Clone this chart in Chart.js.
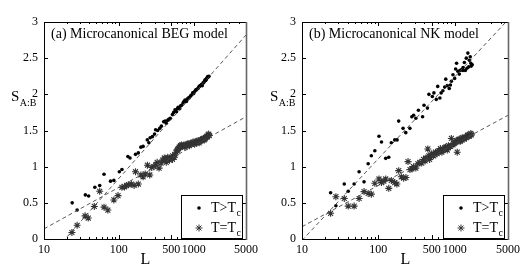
<!DOCTYPE html>
<html>
<head>
<meta charset="utf-8">
<script src="https://cdn.jsdelivr.net/npm/chart.js@4.4.1/dist/chart.umd.min.js"></script>
<style>
  html, body { margin: 0; padding: 0; background: #fff; }
  #wrap { display: flex; width: 524px; height: 271px; }
  canvas { display: block; }
</style>
</head>
<body>
<div id="wrap">
  <canvas id="chartA" width="262" height="271"></canvas>
  <canvas id="chartB" width="262" height="271"></canvas>
</div>
<script>
// axis ticks
const xTicks = [10, 100, 500, 1000, 5000];
const xMinor = [20, 30, 40, 50, 60, 70, 80, 90, 200, 300, 400, 600, 700, 800, 900, 2000, 3000, 4000];
const yTicks = [0, 0.5, 1, 1.5, 2, 2.5, 3];

// (a) Microcanonical BEG model, T > Tc
const aHotL = [23.8, 27.7, 35.7, 39.5, 47.8, 55.5, 63.4, 77.4, 85.8, 101.6, 110, 132, 141, 167, 182, 197, 211,
  240, 252, 262, 281, 300, 310, 352, 397, 430, 464, 486, 520, 563, 590, 620, 650, 690, 720, 765, 800, 840, 880,
  935, 970, 1030, 1060, 1100, 1140, 1190, 1260, 1300, 1340, 1390, 1440, 1490, 1540, 1600,
  330, 370, 415, 450, 540, 605, 670, 740, 780, 820, 860, 910, 1000, 1080, 1170, 1220, 1280, 1360, 1420, 1470, 1520, 1570];
const aHotS = [0.50, 0.40, 0.61, 0.595, 0.715, 0.74, 0.895, 0.80, 0.81, 0.93, 0.96, 1.14, 1.12, 1.17, 1.19, 1.27, 1.28,
  1.37, 1.33, 1.40, 1.415, 1.45, 1.51, 1.53, 1.62, 1.60, 1.655, 1.67, 1.72, 1.785, 1.76, 1.82, 1.80, 1.85, 1.88, 1.92, 1.90, 1.945, 1.96,
  1.99, 2.02, 2.04, 2.06, 2.07, 2.08, 2.11, 2.13, 2.12, 2.16, 2.18, 2.19, 2.22, 2.245, 2.25,
  1.50, 1.56, 1.63, 1.64, 1.75, 1.80, 1.84, 1.90, 1.91, 1.93, 1.95, 1.98, 2.01, 2.06, 2.10, 2.12, 2.14, 2.16, 2.20, 2.20, 2.23, 2.24];

// (a) T = Tc
const aCritL = [23.6, 27.7, 35.4, 39, 47, 55.5, 63.4, 71.3, 85.8, 97.5, 110, 119, 127, 134, 147, 160, 167, 182, 197, 211,
  225, 241, 259, 275, 295, 310, 325, 345, 365, 385, 405, 425, 450, 475, 500, 525, 550, 580, 610, 640, 670, 700, 740,
  780, 820, 860, 900, 950, 1000, 1050, 1100, 1150, 1200, 1260, 1320, 1380, 1440, 1500, 1560, 1620,
  430, 470, 520, 560, 600, 630, 660, 690, 720, 760, 800, 840, 880, 920, 980, 1030, 1080, 1130, 1180, 1230, 1290, 1350, 1410, 1470, 1530, 1590];
const aCritS = [0.09, 0.19, 0.32, 0.29, 0.45, 0.66, 0.44, 0.40, 0.54, 0.60, 0.715, 0.72, 0.74, 0.75, 0.76, 0.74, 0.93, 0.76, 0.885, 0.86,
  0.90, 1.02, 0.885, 0.99, 1.00, 1.02, 1.06, 0.98, 1.05, 1.09, 1.12, 1.10, 1.13, 1.09, 1.12, 1.15, 1.13, 1.20, 1.24, 1.27, 1.29, 1.28, 1.30,
  1.29, 1.31, 1.30, 1.32, 1.33, 1.32, 1.34, 1.33, 1.36, 1.35, 1.37, 1.38, 1.37, 1.40, 1.42, 1.44, 1.43,
  1.06, 1.12, 1.10, 1.16, 1.22, 1.25, 1.28, 1.30, 1.29, 1.27, 1.30, 1.32, 1.29, 1.31, 1.34, 1.31, 1.35, 1.34, 1.33, 1.37, 1.36, 1.39, 1.38, 1.41, 1.41, 1.45];

// (a) dashed fits
const aFitL = [10, 5000];
const aFitHotS = [-0.33, 2.82];
const aFitCritS = [0.14, 1.69];

// (b) Microcanonical NK model, T > Tc
const bHotL = [23.7, 27.8, 35.8, 40.3, 48.2, 56, 65, 73.6, 81, 90, 102, 110, 125, 137, 148, 164, 176, 185, 211, 229,
  259, 275, 290, 310, 335, 380, 397, 440, 460, 510, 535, 575, 600, 640, 665, 700, 740, 765, 800, 850, 880, 906, 950,
  1000, 1030, 1060, 1100, 1170, 1220, 1280, 1290, 1340, 1420, 1450, 1490, 1560, 1630, 1700,
  1150, 1380, 1530, 1600, 1650];
const bHotS = [0.64, 0.46, 0.76, 0.66, 0.76, 0.93, 0.79, 1.04, 1.15, 1.22, 1.42, 1.34, 1.115, 1.13, 1.33, 1.37, 1.37, 1.63, 1.53, 1.47,
  1.53, 1.69, 1.71, 1.67, 1.78, 1.69, 1.85, 1.81, 2.00, 1.97, 2.02, 1.93, 2.11, 1.95, 2.02, 2.05, 2.10, 2.21, 2.12, 2.08, 2.13, 2.18, 2.27,
  2.22, 2.35, 2.43, 2.32, 2.33, 2.34, 2.33, 2.37, 2.44, 2.50, 2.36, 2.57, 2.47, 2.43, 2.41,
  2.28, 2.33, 2.38, 2.52, 2.39];

// (b) T = Tc
const bCritL = [23.7, 27.8, 35.8, 40.3, 48.2, 56, 65, 73.6, 81, 90, 102, 110, 118, 125, 137, 148, 164, 175, 185, 200,
  215, 230, 245, 260, 275, 290, 310, 330, 350, 370, 390, 410, 445, 460, 480, 500, 530, 560, 590, 620, 650, 680, 720,
  760, 800, 850, 906, 950, 1000, 1050, 1080, 1100, 1150, 1200, 1260, 1330, 1400, 1470, 1540, 1630,
  420, 470, 540, 610, 700, 740, 780, 830, 880, 980, 1030, 1120, 1180, 1230, 1300, 1360, 1430, 1500, 1580, 1660];
const bCritS = [0.355, 0.585, 0.56, 0.455, 0.455, 0.56, 0.655, 0.63, 0.62, 0.77, 0.83, 0.78, 0.80, 0.83, 0.70, 0.81, 0.78, 0.76, 0.945, 0.86,
  0.84, 0.85, 1.07, 0.96, 0.97, 1.00, 0.98, 1.04, 1.06, 1.05, 1.10, 1.08, 1.245, 1.15, 1.13, 1.18, 1.15, 1.20, 1.18, 1.22, 1.25, 1.20, 1.24,
  1.27, 1.23, 1.28, 1.39, 1.30, 1.33, 1.36, 1.20, 1.35, 1.38, 1.36, 1.40, 1.38, 1.41, 1.43, 1.42, 1.46,
  1.12, 1.10, 1.17, 1.20, 1.22, 1.26, 1.25, 1.29, 1.28, 1.32, 1.34, 1.37, 1.35, 1.38, 1.39, 1.40, 1.40, 1.44, 1.43, 1.44];

// (b) dashed fits
const bFitL = [10, 5000];
const bFitHotS = [-0.02, 3.03];
const bFitCritS = [0.17, 1.71];

const SERIF = '"Liberation Serif", "DejaVu Serif", serif';

function pts(xs, ys) {
  return xs.map((x, i) => ({ x: x, y: ys[i] }));
}

// text with a lowered subscript
function subText(ctx, main, sub, x, y, size, subSize, drop) {
  ctx.font = size + 'px ' + SERIF;
  ctx.fillText(main, x, y);
  const w = ctx.measureText(main).width;
  ctx.font = subSize + 'px ' + SERIF;
  ctx.fillText(sub, x + w + 0.5, y + drop);
}

function drawStar(ctx, x, y, r) {
  const d = r * Math.SQRT1_2;
  ctx.beginPath();
  ctx.moveTo(x - r, y); ctx.lineTo(x + r, y);
  ctx.moveTo(x, y - r); ctx.lineTo(x, y + r);
  ctx.moveTo(x - d, y - d); ctx.lineTo(x + d, y + d);
  ctx.moveTo(x - d, y + d); ctx.lineTo(x + d, y - d);
  ctx.stroke();
}

// box, inward ticks, panel title, axis labels and legend
const framePlugin = {
  id: 'frame',
  afterDatasetsDraw(chart, args, opts) {
    const { ctx, chartArea: a, scales: { x, y } } = chart;
    ctx.save();
    ctx.strokeStyle = '#000';
    ctx.lineWidth = 1;
    ctx.beginPath();
    yTicks.forEach(v => {
      const py = Math.round(y.getPixelForValue(v)) + 0.5;
      ctx.moveTo(a.left, py); ctx.lineTo(a.left + 4, py);
      ctx.moveTo(a.right, py); ctx.lineTo(a.right - 4, py);
    });
    xTicks.forEach(v => {
      const px = Math.round(x.getPixelForValue(v)) + 0.5;
      ctx.moveTo(px, a.bottom); ctx.lineTo(px, a.bottom - 4);
      ctx.moveTo(px, a.top); ctx.lineTo(px, a.top + 4);
    });
    xMinor.forEach(v => {
      const px = Math.round(x.getPixelForValue(v)) + 0.5;
      ctx.moveTo(px, a.bottom); ctx.lineTo(px, a.bottom - 2);
      ctx.moveTo(px, a.top); ctx.lineTo(px, a.top + 2);
    });
    ctx.stroke();

    // legend box
    const lx = a.right - 65, ly = a.bottom - 44, lw = 61, lh = 43;
    ctx.fillStyle = '#fff';
    ctx.fillRect(lx, ly, lw, lh);
    ctx.strokeStyle = '#000';
    ctx.strokeRect(lx + 0.5, ly + 0.5, lw, lh);

    ctx.fillStyle = '#000';
    ctx.beginPath();
    ctx.arc(a.right - 47, a.bottom - 31, 1.8, 0, Math.PI * 2);
    ctx.fill();
    ctx.strokeStyle = '#333';
    drawStar(ctx, a.right - 47, a.bottom - 11, 3.5);

    ctx.fillStyle = '#000';
    ctx.textAlign = 'left';
    ctx.textBaseline = 'alphabetic';
    subText(ctx, 'T>T', 'c', a.right - 35, a.bottom - 27, 14, 10, 4);
    subText(ctx, 'T=T', 'c', a.right - 35, a.bottom - 7, 14, 10, 4);

    // frame
    ctx.strokeStyle = '#000';
    ctx.beginPath();
    ctx.moveTo(a.right + 0.5, a.top + 0.5);
    ctx.lineTo(a.left + 0.5, a.top + 0.5);
    ctx.lineTo(a.left + 0.5, a.bottom + 0.5);
    ctx.lineTo(a.right + 0.5, a.bottom + 0.5);
    ctx.stroke();
    ctx.strokeStyle = '#666';
    ctx.lineWidth = 1.6;
    ctx.beginPath();
    ctx.moveTo(a.right + 0.5, a.top);
    ctx.lineTo(a.right + 0.5, a.bottom + 1);
    ctx.stroke();

    // panel title
    ctx.fillStyle = '#000';
    ctx.font = '14px ' + SERIF;
    ctx.fillText(opts.title, a.left + 7, a.top + 16);

    // axis labels
    ctx.textAlign = 'center';
    ctx.font = '16px ' + SERIF;
    ctx.fillText('L', (a.left + a.right) / 2 + 0.5, 264);
    ctx.textAlign = 'left';
    subText(ctx, 'S', 'A:B', opts.yLabelX, 101, 15, 10, 5);
    ctx.restore();
  }
};

function makePanel(id, title, yW, padRight, yLabelX, hotL, hotS, critL, critS, fitL, fitHotS, fitCritS) {
  return new Chart(document.getElementById(id), {
    type: 'scatter',
    data: {
      datasets: [
        {
          label: 'fit T>Tc',
          data: pts(fitL, fitHotS),
          showLine: true,
          pointRadius: 0,
          borderColor: '#444',
          borderWidth: 0.9,
          borderDash: [4, 3],
        },
        {
          label: 'fit T=Tc',
          data: pts(fitL, fitCritS),
          showLine: true,
          pointRadius: 0,
          borderColor: '#444',
          borderWidth: 0.9,
          borderDash: [4, 3],
        },
        {
          label: 'T=Tc',
          data: pts(critL, critS),
          pointStyle: 'star',
          pointRadius: 3.5,
          borderColor: '#333',
          borderWidth: 1.1,
          backgroundColor: '#333',
        },
        {
          label: 'T>Tc',
          data: pts(hotL, hotS),
          pointStyle: 'circle',
          pointRadius: 1.8,
          borderWidth: 0,
          backgroundColor: '#000',
        },
      ],
    },
    options: {
      responsive: false,
      animation: false,
      events: [],
      layout: { padding: { top: 22, right: padRight, left: 0, bottom: 0 } },
      plugins: {
        legend: { display: false },
        tooltip: { enabled: false },
        frame: { title: title, yLabelX: yLabelX },
      },
      scales: {
        x: {
          type: 'logarithmic',
          min: 10,
          max: 5000,
          grid: { display: false, drawTicks: false },
          border: { display: false },
          afterBuildTicks: axis => { axis.ticks = xTicks.map(v => ({ value: v })); },
          afterFit: axis => { axis.height = 32; },
          ticks: {
            autoSkip: false,
            maxRotation: 0,
            minRotation: 0,
            padding: 4,
            color: '#000',
            font: { family: SERIF, size: 12 },
            callback: v => String(v),
          },
        },
        y: {
          min: 0,
          max: 3,
          grid: { display: false, drawTicks: false },
          border: { display: false },
          afterBuildTicks: axis => { axis.ticks = yTicks.map(v => ({ value: v })); },
          afterFit: axis => { axis.width = yW; },
          ticks: {
            padding: 6,
            color: '#000',
            font: { family: SERIF, size: 12 },
            callback: v => String(v),
          },
        },
      },
    },
    plugins: [framePlugin],
  });
}

makePanel('chartA', '(a) Microcanonical BEG model', 44, 12, 11,
  aHotL, aHotS, aCritL, aCritS, aFitL, aFitHotS, aFitCritS);
makePanel('chartB', '(b) Microcanonical NK model', 40, 13, 8,
  bHotL, bHotS, bCritL, bCritS, bFitL, bFitHotS, bFitCritS);
</script>
</body>
</html>
